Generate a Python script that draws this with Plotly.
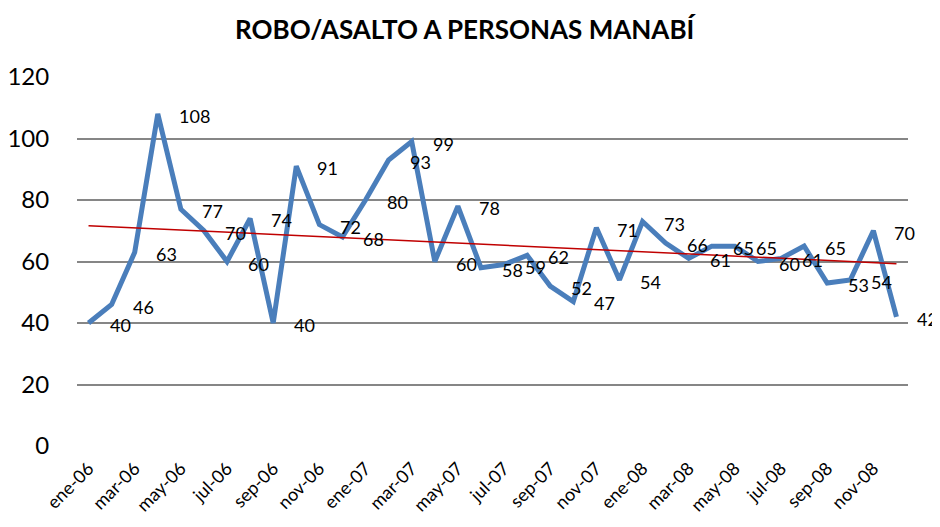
import numpy as np
import plotly.graph_objects as go

months = ["ene", "feb", "mar", "abr", "may", "jun", "jul", "ago", "sep", "oct", "nov", "dic"]
years = ["06", "07", "08"]
categories = [f"{m}-{y}" for y in years for m in months]
values = [40, 46, 63, 108, 77, 70, 60, 74, 40, 91, 72, 68,
          80, 93, 99, 60, 78, 58, 59, 62, 52, 47, 71, 54,
          73, 66, 61, 65, 65, 60, 61, 65, 53, 54, 70, 42]
title = "ROBO/ASALTO A PERSONAS MANABÍ"

idx = np.arange(len(values))
slope, intercept = np.polyfit(idx, values, 1)
trend = slope * idx + intercept

FONT = "Lato"

fig = go.Figure()
fig.add_trace(go.Scatter(x=idx, y=values, mode="lines",
                         line=dict(color="#4A7EBB", width=5), showlegend=False))
fig.add_trace(go.Scatter(x=idx, y=trend, mode="lines",
                         line=dict(color="#C00000", width=1.5), showlegend=False))

for i, v in enumerate(values):
    fig.add_annotation(x=i, y=v, text=str(v), showarrow=False,
                       xanchor="left", yanchor="middle", xshift=19, yshift=-2,
                       font=dict(family=FONT, size=18, color="#000000"))

fig.update_layout(
    width=932, height=519,
    margin=dict(l=69, r=32, t=69, b=81, autoexpand=False),
    paper_bgcolor="white", plot_bgcolor="white",
    title=dict(text=f"<b>{title}</b>", x=0.49, xanchor="center", y=0.958, yanchor="middle",
               font=dict(family=FONT, size=26, color="#000000")),
    xaxis=dict(range=[-0.5, len(values) - 0.5], automargin=False,
               tickmode="array", tickvals=idx[::2].tolist(), ticktext=categories[::2],
               tickangle=-45, showgrid=False, zeroline=False, showline=False,
               ticks="outside", ticklen=4, tickcolor="rgba(0,0,0,0)",
               tickfont=dict(family=FONT, size=18, color="#000000")),
    yaxis=dict(range=[0, 120], tickvals=[0, 20, 40, 60, 80, 100, 120], automargin=False,
               showgrid=True, gridcolor="#868686", gridwidth=1.5,
               zeroline=False, showline=False, ticks="outside", ticklen=22,
               tickcolor="rgba(0,0,0,0)",
               tickfont=dict(family=FONT, size=24, color="#000000")),
)

fig.write_html("out.html")
